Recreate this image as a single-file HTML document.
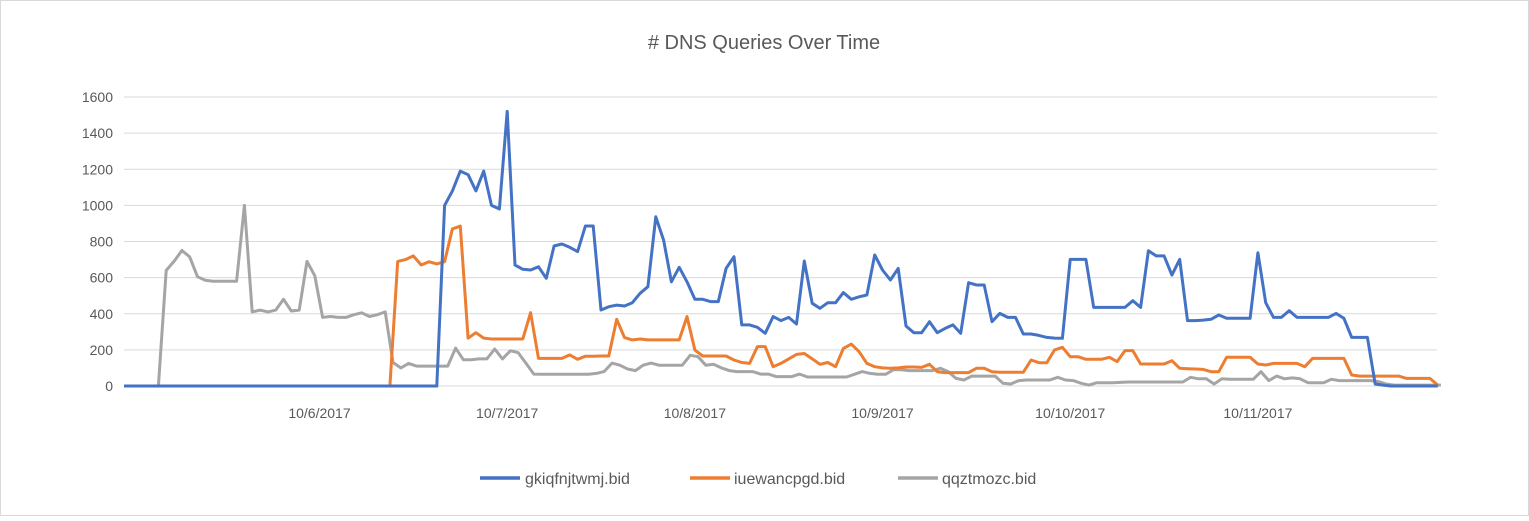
<!DOCTYPE html>
<html><head><meta charset="utf-8"><style>
body{margin:0;background:#fff;font-family:"Liberation Sans",sans-serif;}
svg text{font-family:"Liberation Sans",sans-serif;fill:#595959;}
</style></head><body>
<svg id="chart" width="1529" height="516" xmlns="http://www.w3.org/2000/svg">
<rect x="0.5" y="0.5" width="1528" height="515" fill="#fff" stroke="#d9d9d9"/>
<text x="764" y="49" font-size="20" text-anchor="middle"># DNS Queries Over Time</text>
<g id="grid"></g><g id="ylab"></g><g id="xlab"></g><g id="lines"></g>
<g>
<line x1="480" y1="478" x2="520" y2="478" stroke="#4472c4" stroke-width="3.5"/>
<text x="525" y="484" font-size="16">gkiqfnjtwmj.bid</text>
<line x1="690" y1="478" x2="730" y2="478" stroke="#ed7d31" stroke-width="3.5"/>
<text x="734" y="484" font-size="16">iuewancpgd.bid</text>
<line x1="898" y1="478" x2="938" y2="478" stroke="#a5a5a5" stroke-width="3.5"/>
<text x="942" y="484" font-size="16">qqztmozc.bid</text>
</g>
</svg>
<script>
const yTicks=[0,200,400,600,800,1000,1200,1400,1600];
const xLabels=["10/6/2017","10/7/2017","10/8/2017","10/9/2017","10/10/2017","10/11/2017"];
const xLabelIdx=[25,49,73,97,121,145];
const blue=[0,0,0,0,0,0,0,0,0,0,0,0,0,0,0,0,0,0,0,0,0,0,0,0,0,0,0,0,0,0,0,0,0,0,0,0,0,0,0,0,0,
1000,1080,1190,1170,1080,1190,1000,980,1520,670,646,642,660,596,775,786,768,744,886,886,421,439,448,443,461,513,550,937,808,577,657,577,480,480,467,467,651,716,338,338,325,292,384,362,380,343,692,458,430,461,461,517,480,494,504,725,642,587,651,332,295,295,356,295,319,338,292,572,559,559,356,402,380,380,288,288,280,269,265,264,701,701,701,435,435,435,435,435,472,435,749,720,720,614,701,362,362,365,369,393,375,375,375,375,738,461,380,380,417,380,380,380,380,380,402,375,269,269,269,11,5,0,0,0,0,0,0,0];
const orange=[0,0,0,0,0,0,0,0,0,0,0,0,0,0,0,0,0,0,0,0,0,0,0,0,0,0,0,0,0,0,0,0,0,0,0,
690,700,720,670,688,676,688,870,885,265,295,265,260,260,260,260,260,406,153,153,153,153,172,148,165,165,166,166,369,268,255,260,255,255,255,255,255,384,199,166,166,166,166,144,130,125,218,218,107,125,150,175,180,150,120,130,107,208,232,190,125,107,100,98,100,105,105,103,120,79,74,74,74,74,98,98,79,76,76,76,76,144,129,129,200,214,162,162,148,148,148,159,135,196,196,122,122,122,122,140,98,96,94,92,79,79,159,159,159,159,122,116,125,125,125,125,107,153,153,153,153,153,61,55,55,55,55,55,55,42,42,42,42,5];
const grey=[0,0,0,0,0,640,690,750,715,605,585,580,580,580,580,1000,410,420,410,420,480,415,420,690,610,380,385,380,380,395,405,385,395,410,130,100,125,110,110,110,110,110,210,145,145,150,150,205,150,195,185,127,66,65,65,65,65,65,65,65,70,80,127,115,94,85,115,127,115,115,115,115,170,162,115,120,100,85,80,80,80,66,66,52,52,52,66,50,50,50,50,50,50,65,80,70,65,65,90,90,85,85,85,85,98,80,42,33,55,55,55,55,15,11,30,33,33,33,33,48,33,30,15,5,18,18,18,20,22,22,22,22,22,22,22,22,48,40,40,11,40,37,37,37,37,79,30,55,40,45,40,18,18,18,37,30,30,30,30,30,25,11,5,5,5,5,5,5,5];
const X0=124,DX=7.82,Y0=386,YS=289/1600;
const xs=i=>X0+i*DX, ys=v=>Y0-v*YS;
const NS="http://www.w3.org/2000/svg";
function mk(t,a,p){const e=document.createElementNS(NS,t);for(const k in a)e.setAttribute(k,a[k]);p.appendChild(e);return e;}
const grid=document.getElementById('grid'),ylab=document.getElementById('ylab'),xlab=document.getElementById('xlab'),lines=document.getElementById('lines');
yTicks.forEach(v=>{
 const l=mk('line',{x1:X0,x2:1437,y1:ys(v),y2:ys(v),stroke:'#d9d9d9','stroke-width':1},grid);
 
 
 const t=mk('text',{x:113,y:ys(v)+5,'font-size':14,'text-anchor':'end'},ylab);
 
 
 t.textContent=v;
});
xLabels.forEach((s,k)=>{
 const t=mk('text',{x:xs(xLabelIdx[k]),y:418,'font-size':14,'text-anchor':'middle'},xlab);
 
 
 t.textContent=s;
});
[[grey,'#a5a5a5','series-qqztmozc',0.4],[orange,'#ed7d31','series-iuewancpgd',0],[blue,'#4472c4','series-gkiqfnjtwmj',0]].forEach(([d,c,n,off])=>{
 const p=mk('polyline',{points:d.map((v,i)=>xs(i+off).toFixed(1)+','+ys(v).toFixed(1)).join(' '),fill:'none',stroke:c,'stroke-width':3,'stroke-linejoin':'round'},lines);
 
 
});
</script>
</body></html>
